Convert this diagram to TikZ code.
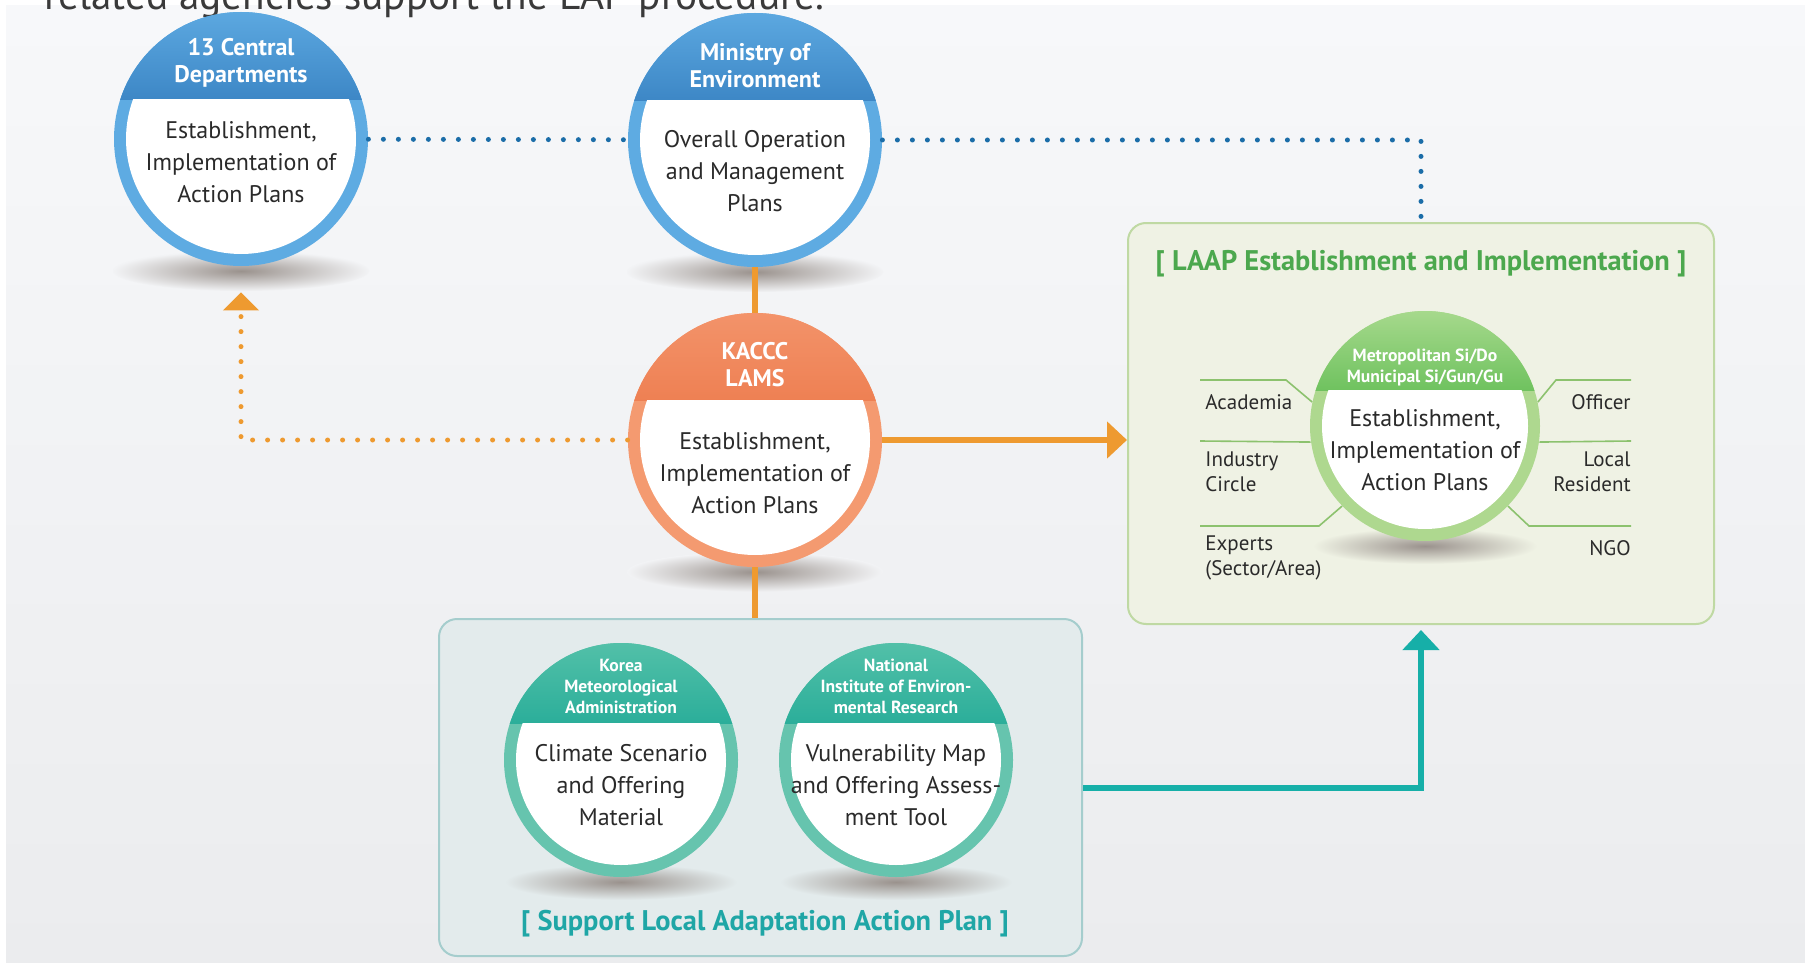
\documentclass[tikz,border=0pt]{standalone}
\usepackage{fontspec}
\setmainfont{PT Sans}
\usetikzlibrary{calc,positioning,arrows.meta}

\definecolor{bgtop}{HTML}{F7F8FA}
\definecolor{bgbot}{HTML}{EBECEE}
\definecolor{bgmid}{HTML}{F2F3F5}
\definecolor{introc}{HTML}{3A3A3A}
\definecolor{txtdark}{HTML}{2A2A2A}
\definecolor{shadowc}{HTML}{9A928D}
\definecolor{bluering}{HTML}{5EABE2}
\definecolor{bluetop}{HTML}{5CA8E0}
\definecolor{bluebot}{HTML}{3D87C6}
\definecolor{orring}{HTML}{F49A70}
\definecolor{ortop}{HTML}{F3936A}
\definecolor{orbot}{HTML}{EE8053}
\definecolor{grring}{HTML}{AED88F}
\definecolor{grtop}{HTML}{A6D98C}
\definecolor{grbot}{HTML}{6FC25F}
\definecolor{tlring}{HTML}{66C4AE}
\definecolor{tltop}{HTML}{52C0A8}
\definecolor{tlbot}{HTML}{2BAE9A}
\definecolor{dotblue}{HTML}{1B6DA8}
\definecolor{orange1}{HTML}{EE9A30}
\definecolor{teal1}{HTML}{16AFA8}
\definecolor{laapfill}{HTML}{EFF2E4}
\definecolor{laapdraw}{HTML}{BFD9A3}
\definecolor{laaptitle}{HTML}{4CA84E}
\definecolor{slapfill}{HTML}{E3EBEC}
\definecolor{slapdraw}{HTML}{A5CDCD}
\definecolor{slaptitle}{HTML}{1FA6A6}
\definecolor{leaderc}{HTML}{8CC26E}

\tikzset{
  orb/.style n args={4}{circle, inner sep=0pt, minimum size=#1, fill=#2,
    path picture={
      \coordinate (orbhl) at ($(path picture bounding box.north)!.345!(path picture bounding box.south)$);
      \shade[top color=#3, bottom color=#4] (path picture bounding box.north west) rectangle (orbhl -| path picture bounding box.east);
      \begin{scope}
        \clip (orbhl -| path picture bounding box.west) rectangle (path picture bounding box.south east);
        \fill[white] (path picture bounding box.center) circle ({#1/2-6pt});
      \end{scope}
    }},
  panel/.style 2 args={draw=#1, fill=#2, line width=1pt, rounded corners=9pt, inner sep=0pt},
  headtxt/.style={text=white, font=\bfseries\fontsize{12}{13.5}\selectfont, align=center},
  smallhead/.style={text=white, font=\bfseries\fontsize{8.8}{10.5}\selectfont, align=center},
  bodytxt/.style={text=txtdark, font=\fontsize{12}{16}\selectfont, align=center},
  sidetxt/.style={text=txtdark, font=\fontsize{10.5}{12.5}\selectfont, align=left, inner sep=0pt},
  titletxt/.style={font=\bfseries\fontsize{14.2}{16}\selectfont},
  bluedots/.style={draw=dotblue, line width=2.5pt, line cap=round, dash pattern=on 0pt off 7.5pt},
  ordots/.style={draw=orange1, line width=2.5pt, line cap=round, dash pattern=on 0pt off 7.5pt},
  bigline/.style={line width=3pt},
  tip/.style={-{Triangle[length=10pt,width=18pt]}},
  leader/.style={draw=leaderc, line width=0.8pt},
  blob/.style={inner color=shadowc, outer color=#1},
}

\begin{document}
\begin{tikzpicture}[x=0.5pt, y=-0.5pt]
  \useasboundingbox (0,0) rectangle (1805,963);
  \clip (0,0) rectangle (1805,963);

  % background
  \fill[white] (0,0) rectangle (1805,963);
  \shade[top color=bgtop, bottom color=bgbot] (6,6) rectangle (1805,963);
  \node[anchor=base west, inner sep=0pt, font=\fontsize{20.6}{24}\selectfont, text=introc] (intro) at (44,10) {related agencies support the LAP procedure.};

  % boxes
  \node[panel={laapdraw}{laapfill}, minimum width=293pt, minimum height=200.5pt] (laap) at (1421,423.5) {};
  \node[panel={slapdraw}{slapfill}, minimum width=321.5pt, minimum height=168.5pt] (slap) at (760.5,787.5) {};
  \node[titletxt, text=laaptitle] (laapt) at (1421,264) {[ LAAP Establishment and Implementation ]};
  \node[titletxt, text=slaptitle] (slapt) at (765,924) {[ Support Local Adaptation Action Plan ]};

  % circle centres
  \coordinate (pA) at (241,139);
  \coordinate (pB) at (755,140);
  \coordinate (pC) at (755,440);
  \coordinate (pM) at (1425,426);
  \coordinate (pK) at (621,760);
  \coordinate (pN) at (896,760);

  % shadows
  \shade[blob=bgmid] ([yshift=-66pt]pA) ellipse (64pt and 10pt);
  \shade[blob=bgmid] ([yshift=-66pt]pB) ellipse (64pt and 10pt);
  \shade[blob=bgmid] ([yshift=-66pt]pC) ellipse (64pt and 10pt);
  \shade[blob=laapfill] ([yshift=-60pt]pM) ellipse (56pt and 9pt);
  \shade[blob=slapfill] ([yshift=-61pt]pK) ellipse (58pt and 9pt);
  \shade[blob=slapfill] ([yshift=-61pt]pN) ellipse (58pt and 9pt);

  % circles
  \node[orb={127pt}{bluering}{bluetop}{bluebot}] (cdep) at (pA) {};
  \node[orb={127pt}{bluering}{bluetop}{bluebot}] (moe) at (pB) {};
  \node[orb={127pt}{orring}{ortop}{orbot}] (lams) at (pC) {};
  \node[orb={115pt}{grring}{grtop}{grbot}] (metro) at (pM) {};
  \node[orb={117pt}{tlring}{tltop}{tlbot}] (kma) at (pK) {};
  \node[orb={117pt}{tlring}{tltop}{tlbot}] (nier) at (pN) {};

  % connectors
  \draw[bluedots] (cdep) -- (moe);
  \draw[bluedots] (moe) -| (laap);
  \draw[ordots, -{Triangle[length=9pt,width=17.5pt]}, shorten >=13pt] (lams) -| (cdep);
  \draw[orange1, bigline] (moe) -- (lams);
  \draw[orange1, bigline] (lams) -- (lams.south |- slap.north);
  \draw[orange1, bigline, tip] (lams) -- (lams -| laap.west);
  \draw[teal1, bigline, tip, shorten >=2.5pt] (slap) -| (laap);

  % circle texts
  \node[headtxt] (cdep-h) at ([yshift=38pt]pA) {13 Central\\Departments};
  \node[bodytxt] (cdep-b) at ([yshift=-11.75pt]pA) {Establishment,\\Implementation of\\Action Plans};
  \node[headtxt] (moe-h) at ([yshift=37.25pt]pB) {Ministry of\\Environment};
  \node[bodytxt] (moe-b) at ([yshift=-15.75pt]pB) {Overall Operation\\and Management\\Plans};
  \node[headtxt] (lams-h) at ([yshift=37.5pt]pC) {KACCC\\LAMS};
  \node[bodytxt] (lams-b) at ([yshift=-16.5pt]pC) {Establishment,\\Implementation of\\Action Plans};
  \node[smallhead] (metro-h) at ([yshift=29.5pt]pM) {Metropolitan Si/Do\\Municipal Si/Gun/Gu};
  \node[bodytxt] (metro-b) at ([yshift=-12pt]pM) {Establishment,\\Implementation of\\Action Plans};
  \node[smallhead] (kma-h) at ([yshift=37pt]pK) {Korea\\Meteorological\\Administration};
  \node[bodytxt] (kma-b) at ([yshift=-12.5pt]pK) {Climate Scenario\\and Offering\\Material};
  \node[smallhead] (nier-h) at ([yshift=37pt]pN) {National\\Institute of Environ-\\mental Research};
  \node[bodytxt] (nier-b) at ([yshift=-12.5pt]pN) {Vulnerability Map\\and Offering Assess-\\ment Tool};

  % participants
  \draw[leader] (1200,380) -- (1286,380) -- (metro.168);
  \draw[leader] (1200,441) -- (metro.188);
  \draw[leader] (1200,526) -- (1319,526) -- (metro.224);
  \draw[leader] (1631,380) -- (1556,380) -- (metro.12);
  \draw[leader] (1631,441) -- (metro.352);
  \draw[leader] (1631,526) -- (1529,526) -- (metro.316);
  \node[sidetxt, anchor=west] (acad) at (1205,402) {Academia};
  \node[sidetxt, anchor=west] (indu) at (1205,472) {Industry\\Circle};
  \node[sidetxt, anchor=west] (expe) at (1205,558) {Experts\\(Sector/Area)};
  \node[sidetxt, anchor=east, align=right] (offi) at (1631,402) {Officer};
  \node[sidetxt, anchor=east, align=right] (locr) at (1631,472) {Local\\Resident};
  \node[sidetxt, anchor=east] (ngo) at (1631,548) {NGO};
\end{tikzpicture}
\end{document}
